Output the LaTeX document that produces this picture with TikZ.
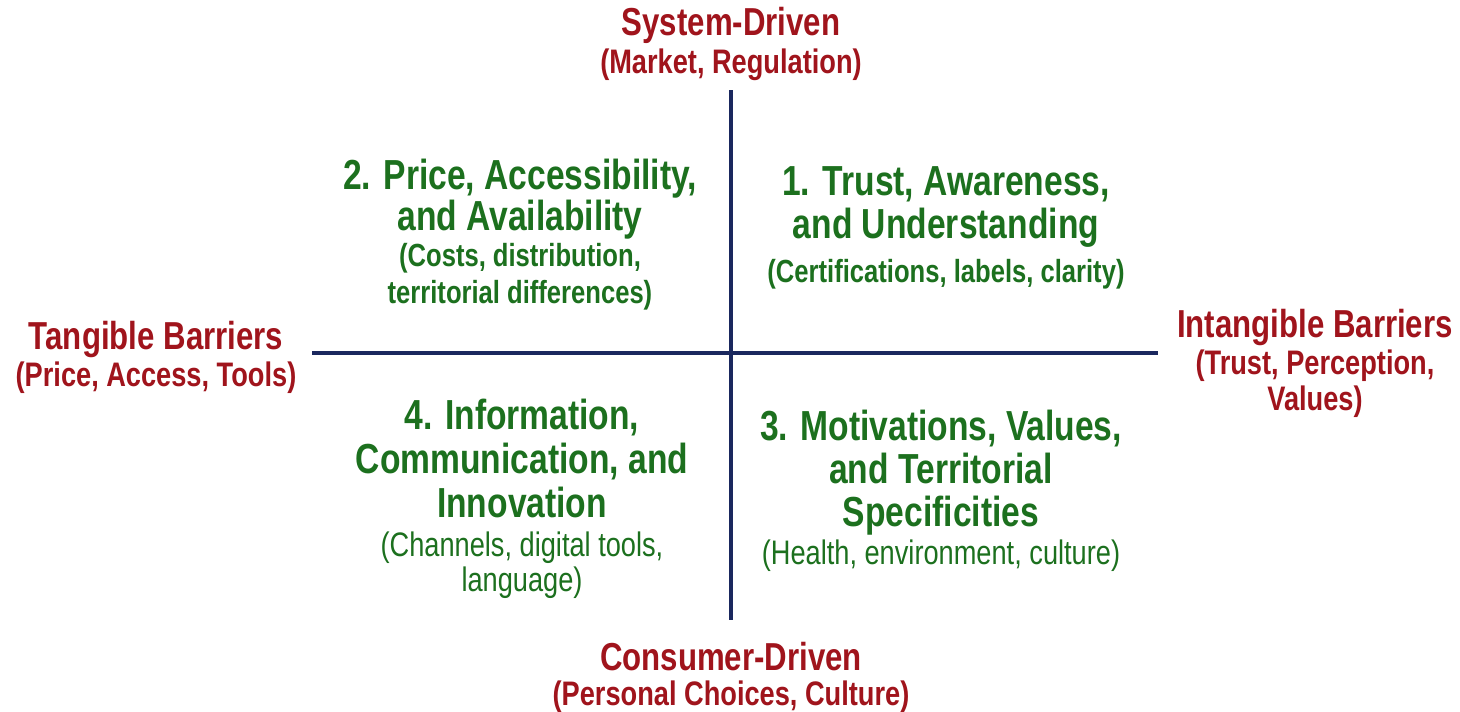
\documentclass[tikz,border=0pt]{standalone}
\usepackage{fontspec}
\setmainfont{Liberation Sans}[FakeStretch=0.8]
\definecolor{poleRed}{RGB}{160,20,28}
\definecolor{quadGreen}{RGB}{28,112,30}
\definecolor{axisBlue}{RGB}{26,40,94}

\begin{document}
\begin{tikzpicture}[x=1pt,y=-1pt]

          \tikzstyle{axisLine} = [draw=axisBlue, line width=3.6pt];
          \tikzstyle{poleTitle} = [text=poleRed, align=center, anchor=base, inner sep=0pt, font=\bfseries\fontsize{39}{37}\selectfont];
          \tikzstyle{poleSub} = [text=poleRed, align=center, anchor=base, inner sep=0pt, font=\bfseries\fontsize{34}{36}\selectfont];
          \tikzstyle{quadTitle} = [text=quadGreen, align=center, anchor=base, inner sep=0pt, font=\bfseries\fontsize{42}{43}\selectfont];
          \tikzstyle{quadSubBold} = [text=quadGreen, align=center, anchor=base, inner sep=0pt, font=\bfseries\fontsize{32}{37}\selectfont];
          \tikzstyle{quadSub} = [text=quadGreen, align=center, anchor=base, inner sep=0pt, font=\fontsize{34}{35}\selectfont];

          \useasboundingbox[fill=white] (0,0) rectangle (1460,712);

          % axes
          \coordinate (top) at (731,90);
          \coordinate (bottom) at (731,620);
          \coordinate (left) at (312,353);
          \coordinate (right) at (1158,353);

          \draw[axisLine] (top) -- (bottom);
          \draw[axisLine] (left) -- (right);

          % poles (base = last line)
          \node[poleTitle] (sysT) at (731,35) {System-Driven};
          \node[poleSub] (sysS) at (731,73) {(Market, Regulation)};
          \node[poleTitle] (tanT) at (156,349) {Tangible Barriers};
          \node[poleSub] (tanS) at (156,386) {(Price, Access, Tools)};
          \node[poleTitle] (intT) at (1315,337) {Intangible Barriers};
          \node[poleSub] (intS) at (1315,410) {(Trust, Perception,\\ Values)};
          \node[poleTitle] (conT) at (731,670) {Consumer-Driven};
          \node[poleSub] (conS) at (731,705) {(Personal Choices, Culture)};

          % quadrants
          \node[quadTitle, font=\bfseries\fontsize{42}{39}\selectfont] (q2T) at (520,230) {2. Price, Accessibility,\\ and Availability};
          \node[quadSubBold] (q2S) at (520,303) {(Costs, distribution,\\ territorial differences)};
          \node[quadTitle] (q1T) at (946,238) {1. Trust, Awareness,\\ and Understanding};
          \node[quadSubBold] (q1S) at (946,282) {(Certifications, labels, clarity)};
          \node[quadTitle, font=\bfseries\fontsize{42}{44}\selectfont] (q4T) at (522,517) {4. Information,\\ Communication, and\\ Innovation};
          \node[quadSub] (q4S) at (522,591) {(Channels, digital tools,\\ language)};
          \node[quadTitle] (q3T) at (941,526) {3. Motivations, Values,\\ and Territorial\\ Specificities};
          \node[quadSub] (q3S) at (941,564) {(Health, environment, culture)};
        \end{tikzpicture}
\end{document}
